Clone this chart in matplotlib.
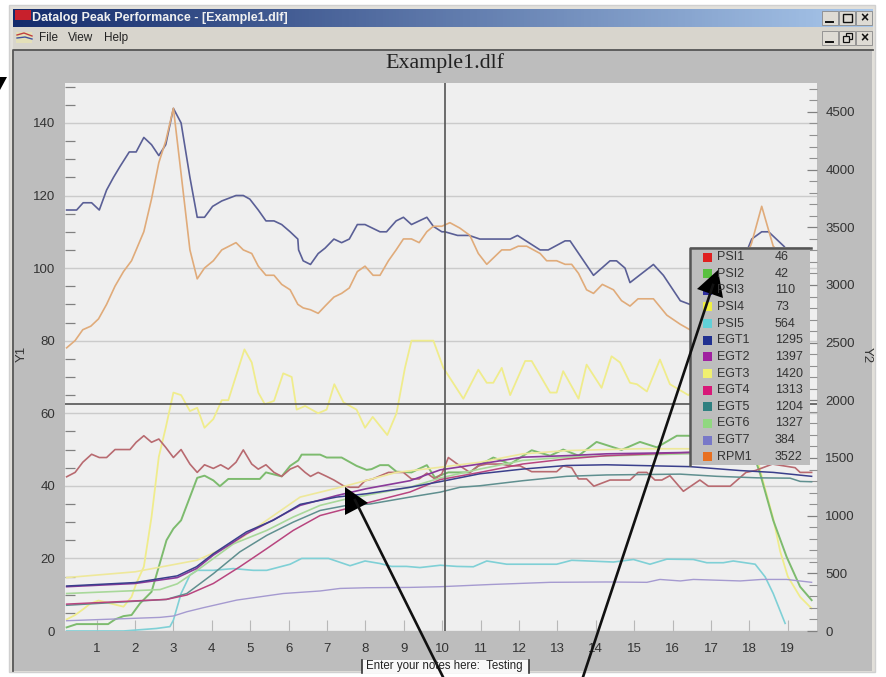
import numpy as np
import matplotlib
matplotlib.use("Agg")
import matplotlib.pyplot as plt
from matplotlib.patches import Rectangle, Polygon

# Y1 series
psi1_x = [0.22,0.44,0.64,0.87,1.07,1.26,1.48,1.87,2.03,2.23,2.43,2.62,2.8,3.0,3.2,3.43,3.62,3.81,4.04,4.23,4.43,4.63,4.82,5.04,5.21,5.41,5.62,5.82,6.04,6.24,6.43,6.57,6.77,6.99,7.18,7.43,7.6,7.82,7.99,8.19,8.6,8.99,9.2,9.4,9.6,9.81,9.99,10.16,10.46,10.72,10.94,11.16,11.55,11.77,12.03,12.33,12.98,13.15,13.37,13.55,13.76,13.95,14.37,14.89,15.1,15.33,15.54,15.72,15.93,16.28,16.71,16.93,17.5,17.91,18.15,18.6,19.19,19.32,19.62]
psi1_y = [42.5,43.7,46.5,48.7,47.8,47.8,50,50,52,53.8,52,52.9,50.6,47.8,50,46,43.7,45.8,44.8,45.8,44.6,46.5,49.9,46,44.6,45.8,43.7,42.6,44.6,45.5,43.7,42.6,43.7,42.6,41.6,40,39.6,39.6,41.4,41.9,43.7,43.7,41.9,41.9,43.5,41.9,43.3,47.8,45.5,43.7,45.5,46,46,45.5,45.5,43.9,43.9,45.5,45,41.9,41.9,39.9,41.6,41.6,43.7,43.7,41.6,41.6,42.8,38.5,41.6,39.9,39.9,43.7,44.2,46,45,43.7,43.7]
psi2_x = [0.22,0.48,1.3,1.48,1.7,1.91,2.13,2.43,2.62,2.82,3.0,3.2,3.43,3.62,3.81,4.04,4.21,4.43,5.25,5.41,5.82,6.04,6.25,6.34,6.82,6.99,7.38,7.77,8.03,8.16,8.38,8.6,8.81,9.2,9.6,9.81,10.16,10.72,10.94,11.33,11.77,12.33,12.81,13.15,13.55,14.02,14.67,15.15,15.59,16.11,16.41,17.2,18.0,18.28,18.62,18.97,19.32,19.62]
psi2_y = [1,1.9,1.9,3.2,4.1,4.4,7.6,10.8,17.7,25,28.2,30.5,36.9,42.2,42.8,41.5,39.9,41.9,41.9,43.7,42.6,45.5,47,48.6,48.6,47.8,47.8,45.5,44.4,44.6,45.7,45.7,43.9,43.7,45.7,42.3,43.7,43.7,45.5,47.8,46,49.8,48.3,50,48.3,52.1,49.9,52.1,50.6,53.8,53.8,53,52,43.3,30.5,20.4,12.2,8.5]
psi3_x = [0.22,0.48,0.65,0.87,1.07,1.26,1.44,1.61,1.85,2.03,2.23,2.43,2.62,2.8,3.0,3.2,3.43,3.62,3.81,4.02,4.26,4.63,4.82,4.99,5.21,5.41,5.62,5.82,6.04,6.24,6.26,6.38,6.57,6.77,6.95,7.18,7.38,7.58,7.79,7.99,8.38,8.55,8.8,8.99,9.2,9.6,9.77,9.99,10.07,10.4,10.7,10.98,11.77,11.96,12.55,12.76,13.2,13.33,13.94,14.37,14.54,14.76,14.89,15.5,15.76,16.2,16.45,17.0,17.6,18.06,18.32,18.5,18.9,19.2,19.5]
psi3_y = [116,116,118,118,116,121.5,125,128,132,132,136,134,131,134,144,140,125,114,114,117,118.5,120,120,119,116,113,113,112,110,108,105,102,101,104,105.5,108,107,108,112,112,110,110,113,114,112,114,111.5,110,110,109,109,108,108,109,105,105,107.5,107.5,98,102,102,100,96,101,98,91,90,88,96,108,110,110,106,102,98]
psi4_x = [0.22,0.44,0.65,0.83,1.05,1.7,1.91,2.03,2.23,2.43,2.62,2.8,3.0,3.2,3.43,3.62,3.81,4.04,4.26,4.43,4.85,5.04,5.21,5.38,5.62,5.86,6.08,6.21,6.43,6.77,6.99,7.19,7.43,7.77,7.99,8.19,8.57,8.81,9.03,9.2,9.77,10.03,10.55,10.94,11.16,11.33,11.55,11.77,12.16,12.33,12.81,12.98,13.15,13.55,13.76,14.15,14.41,14.63,14.89,15.07,15.33,15.67,15.93,16.41,17.0,17.8,18.28,18.62,18.8,19.0,19.32,19.62]
psi4_y = [3.2,4.4,6,7.5,8.4,6.7,9.4,13,17.7,31.4,48,56,65.7,65,60.6,61.5,56,58.4,63.6,63.6,77.6,74,65.7,62.5,63.4,71,70,61,62,60,61,68,63,61,56,59,54,60,72.5,80,80,72.5,64,72,68.4,68.4,72.5,65,74.4,74.4,65.7,65.7,71.6,64,73.4,67,75.7,74,68.4,68,66,74.8,68,65,70,68,44.2,31,22,15,9.4,6.2]

# Y2 series
psi5_x = [0.22,1.7,2.56,2.91,3.0,3.2,3.43,3.62,4.04,4.56,5.08,5.43,6.04,6.34,7.04,7.6,7.99,8.38,8.68,9.07,9.42,9.95,10.38,10.81,11.16,11.68,12.98,13.37,14.46,14.98,15.41,15.85,16.54,16.89,17.32,17.58,18.15,18.41,18.62,18.93]
psi5_y = [0,0,22,38,94,325,485,526,526,541,526,526,579,629,629,566,607,585,560,560,550,570,560,557,607,579,579,613,598,620,579,623,620,592,592,607,579,469,325,66]
egt1_x = [0.22,2.0,3.1,3.6,4.04,4.9,5.6,6.3,7.25,8.03,9.16,9.95,10.98,12.1,13.24,14.28,16.45,17.76,18.62,19.62]
egt1_y = [390,420,478,557,670,859,960,1098,1161,1190,1246,1295,1363,1404,1435,1441,1425,1391,1375,1341]
egt2_x = [0.22,2.0,3.1,3.6,4.04,4.9,5.6,6.3,7.25,8.03,9.16,9.95,10.98,12.1,13.24,14.28,16.41,18.0,19.5]
egt2_y = [384,412,463,541,658,843,963,1089,1174,1234,1303,1397,1448,1507,1520,1536,1548,1550,1540]
egt3_x = [0.22,2.0,3.62,4.56,5.43,6.3,7.5,8.81,9.95,10.98,12.1,13.24,15.15,16.41,18.0,19.5]
egt3_y = [463,513,614,755,960,1161,1259,1375,1420,1463,1536,1564,1580,1580,1585,1570]
egt4_x = [0.22,2.82,3.35,4.04,4.73,5.43,6.12,6.82,7.51,8.12,9.16,9.95,10.98,12.1,13.24,14.28,16.41,18.0,19.5]
egt4_y = [233,274,312,412,557,714,872,1001,1061,1117,1205,1313,1375,1448,1492,1520,1548,1550,1530]
egt5_x = [0.22,2.82,3.35,4.04,4.73,5.43,6.12,6.82,7.51,8.12,9.16,9.95,10.46,10.98,12.1,13.24,14.28,16.2,17.15,18.2,19.06,19.32,19.62]
egt5_y = [223,274,325,497,686,829,944,1045,1089,1101,1161,1204,1246,1259,1303,1341,1353,1360,1341,1328,1325,1297,1294]
egt6_x = [0.22,2.65,3.1,3.62,4.56,5.43,6.12,6.82,7.51,8.12,9.16,9.95,10.98,12.1,13.24,15.15,16.41,18.0,19.5]
egt6_y = [325,359,409,526,755,872,988,1089,1145,1183,1246,1327,1404,1479,1507,1526,1536,1540,1530]
egt7_x = [0.22,2.65,3.0,3.35,3.78,4.65,5.86,6.82,7.34,8.03,9.16,9.95,11.25,12.81,14.28,15.33,15.67,16.2,16.54,17.76,18.32,18.97,19.62]
egt7_y = [89,118,130,167,202,268,325,347,369,375,378,384,403,422,425,422,447,434,447,434,447,447,422]
rpm1_x = [0.22,0.44,0.64,0.85,1.05,1.26,1.48,1.7,1.91,2.03,2.23,2.43,2.62,2.8,3.0,3.2,3.43,3.62,3.81,4.04,4.26,4.63,4.82,5.04,5.21,5.41,5.62,5.82,6.04,6.24,6.38,6.57,6.77,6.95,7.18,7.38,7.58,7.79,7.99,8.2,8.38,8.6,8.8,8.99,9.2,9.4,9.6,9.77,9.99,10.2,10.46,10.72,10.94,11.16,11.55,11.77,11.98,12.2,12.55,12.72,12.98,13.2,13.37,13.55,13.76,13.94,14.17,14.46,14.67,14.89,15.1,15.5,15.85,16.2,16.45,17.0,17.6,18.06,18.32,18.62,19.0,19.5]
rpm1_y = [2455,2518,2612,2643,2706,2832,2990,3116,3210,3304,3462,3745,4060,4248,4532,3965,3304,3053,3147,3210,3304,3367,3304,3273,3163,3084,3084,3005,2958,2832,2801,2785,2754,2817,2895,2927,2974,3116,3163,3084,3084,3210,3304,3399,3399,3367,3462,3509,3509,3540,3493,3430,3273,3179,3304,3304,3336,3336,3273,3210,3210,3179,3179,3100,2958,2927,3005,2958,2864,2817,2880,2880,2738,2659,2612,2700,2950,3367,3682,3336,3210,3050]

# legend
legend_names = ["PSI1","PSI2","PSI3","PSI4","PSI5","EGT1","EGT2","EGT3","EGT4","EGT5","EGT6","EGT7","RPM1"]
legend_values = [46,42,110,73,564,1295,1397,1420,1313,1204,1327,384,3522]
legend_colors = ["#e02020","#58c040","#3030a0","#f0f040","#60d0d8","#203090","#a020a0","#f0f070","#d81878","#2f8080","#90d880","#7878c8","#e87020"]

x_ticks = list(range(1, 20))
y1_ticks = [0, 20, 40, 60, 80, 100, 120, 140]
y2_ticks = [0, 500, 1000, 1500, 2000, 2500, 3000, 3500, 4000, 4500]
cursor_x = 10.07
cursor_y = 62.5

W, H = 886, 677
plt.rcParams["font.family"] = ["Liberation Sans", "DejaVu Sans"]
fig = plt.figure(figsize=(W / 100, H / 100), dpi=100, facecolor="white")

# window behind the plot
bg = fig.add_axes([0, 0, 1, 1], zorder=0)
bg.set_xlim(0, W)
bg.set_ylim(H, 0)
bg.axis("off")
bg.add_patch(Rectangle((9, 5), 866, 667, fc="#e2e0da", ec="#d0d0d0", lw=1))
bg.add_patch(Rectangle((13, 27), 860, 23, fc="#d8d5cd", ec="none"))
bg.add_patch(Rectangle((14, 50), 858, 621, fc="#bdbdbd", ec="none"))
bg.plot([13.5, 13.5, 873], [671, 49.5, 49.5], color="#555555", lw=1.3)
grad = np.linspace(0, 1, 256).reshape(1, -1, 1)
c0, c1 = np.array([0.08, 0.17, 0.42]), np.array([0.66, 0.78, 0.92])
bg.imshow(c0 + (c1 - c0) * grad, extent=(13, 873, 27, 9), aspect="auto", zorder=1)
bg.set_xlim(0, W)
bg.set_ylim(H, 0)
bg.add_patch(Rectangle((15, 10), 16, 10, fc="#c8202c", ec="none", zorder=2))
bg.text(32, 18, "Datalog Peak Performance - [Example1.dlf]", color="#f0f0f0", fontsize=9,
        fontweight="bold", va="center", zorder=2)
bg.add_patch(Rectangle((16, 32), 16, 11, fc="#e4e0b8", ec="none"))
bg.plot([17, 24, 32], [35, 33, 36], color="#c04040", lw=1)
bg.plot([17, 25, 32], [38, 37, 39], color="#4050a0", lw=1)
for name, xpos in [("File", 39), ("View", 68), ("Help", 104)]:
    bg.text(xpos, 38, name, color="#222222", fontsize=8.5, va="center")

# window buttons
for row_y in (11, 31):
    for i in range(3):
        bg.add_patch(Rectangle((822 + i * 17, row_y), 16, 14, fc="#dedbd4", ec="#8a8a8a", lw=0.6, zorder=2))
    bg.plot([826, 833], [row_y + 11, row_y + 11], color="#111111", lw=1.4, zorder=3)
    bg.text(864, row_y + 7, "\u00d7", color="#111111", fontsize=10, fontweight="bold",
            ha="center", va="center", zorder=3)
bg.add_patch(Rectangle((843, 14), 9, 8, fc="none", ec="#111111", lw=1, zorder=3))
bg.add_patch(Rectangle((846, 33), 6, 6, fc="none", ec="#111111", lw=0.9, zorder=3))
bg.add_patch(Rectangle((843, 36), 6, 6, fc="#dedbd4", ec="#111111", lw=0.9, zorder=4))

bg.text(445, 63, "Example1.dlf", fontsize=15.8, ha="center", va="center", color="#222222", family="Liberation Serif")
bg.text(22, 354, "Y1", fontsize=9.5, rotation=90, ha="center", va="center", color="#333333")
bg.text(867, 355, "Y2", fontsize=9.5, rotation=270, ha="center", va="center", color="#333333")

# plot
ax = fig.add_axes([65 / W, 1 - 631 / H, 752 / W, 548 / H], zorder=1, facecolor="#efefef")
ax2 = ax.twinx()
ax.set_xlim(0.177, 19.76)
ax.set_ylim(0, 151)
ax2.set_ylim(0, 4751)
for a in (ax, ax2):
    for s in a.spines.values():
        s.set_visible(False)

ax.set_xticks(x_ticks)
ax.set_yticks(y1_ticks)
ax.set_yticks(np.arange(0, 151, 5), minor=True)
ax2.set_yticks(y2_ticks)
ax2.set_yticks(np.arange(0, 4751, 100), minor=True)
ax.grid(axis="y", which="major", color="#cbcbcb", lw=1)
ax.set_axisbelow(True)
ax.tick_params(axis="x", direction="in", length=8, width=0.8, color="#b8b8b8", labelsize=9.5, labelcolor="#333333", pad=9)
ax.tick_params(axis="y", which="major", direction="in", length=0, labelsize=9.5, labelcolor="#333333", pad=7)
ax.tick_params(axis="y", which="minor", direction="in", length=7, width=0.9, color="#808080")
ax2.tick_params(axis="y", which="major", direction="in", length=7, width=0.9, color="#808080", labelsize=9.5, labelcolor="#333333", pad=6)
ax2.tick_params(axis="y", which="minor", direction="in", length=6, width=0.8, color="#909090")

ax.plot(psi4_x, psi4_y, color="#efec8c", lw=1.3)
ax.plot(psi2_x, psi2_y, color="#7dbb6e", lw=1.4)
ax.plot(psi1_x, psi1_y, color="#b86a70", lw=1.2)
ax.plot(psi3_x, psi3_y, color="#5a5f96", lw=1.2)
ax2.plot(rpm1_x, rpm1_y, color="#e0ab7a", lw=1.2)
ax2.plot(psi5_x, psi5_y, color="#7fd0d6", lw=1.2)
ax2.plot(egt7_x, egt7_y, color="#a59ad0", lw=1)
ax2.plot(egt3_x, egt3_y, color="#eee89a", lw=1.2)
ax2.plot(egt6_x, egt6_y, color="#a8d89a", lw=1.2)
ax2.plot(egt5_x, egt5_y, color="#5f8f8f", lw=1.1)
ax2.plot(egt4_x, egt4_y, color="#b8457f", lw=1.1)
ax2.plot(egt2_x, egt2_y, color="#8a3a9a", lw=1.2)
ax2.plot(egt1_x, egt1_y, color="#3a3f8c", lw=1.1)
ax2.axvline(cursor_x, color="#555555", lw=1.2)
ax2.plot(ax.get_xlim(), [cursor_y * 4751 / 151] * 2, color="#555555", lw=1.2)
ax2.set_xlim(ax.get_xlim())

# legend, note box and arrows on top
top = fig.add_axes([0, 0, 1, 1], zorder=2)
top.set_xlim(0, W)
top.set_ylim(H, 0)
top.axis("off")
top.add_patch(Rectangle((690, 247), 120, 218, fc="#bdbdbd", ec="none"))
top.plot([690, 690, 811], [465, 248, 248], color="#555555", lw=1.8)
for i, name in enumerate(legend_names):
    row_y = 257 + i * 16.65
    top.add_patch(Rectangle((703, row_y - 4.5), 9, 9, fc=legend_colors[i], ec="none"))
    top.text(717, row_y, name, fontsize=9, va="center", color="#333333")
    top.text(775, row_y, str(legend_values[i]), fontsize=9, va="center", color="#333333")

top.add_patch(Rectangle((362, 660), 167, 13, fc="#f8f8f8", ec="none"))
top.plot([362, 362], [660, 673], color="#333333", lw=1.2)
top.plot([529, 529], [660, 673], color="#333333", lw=1.2)
top.text(366, 666.5, "Enter your notes here:  Testing", fontsize=8.3, va="center", color="#222222")

top.plot([443, 355], [677, 500], color="#111111", lw=1.9)
top.add_patch(Polygon([(345, 487), (368, 503), (345, 515)], fc="black", ec="none"))
top.plot([583, 713], [677, 285], color="#111111", lw=1.9)
top.add_patch(Polygon([(718, 270), (697, 289), (723, 298)], fc="black", ec="none"))
top.add_patch(Polygon([(0, 77), (7, 77), (0, 90)], fc="black", ec="none"))

fig.savefig("out.png", dpi=100)
